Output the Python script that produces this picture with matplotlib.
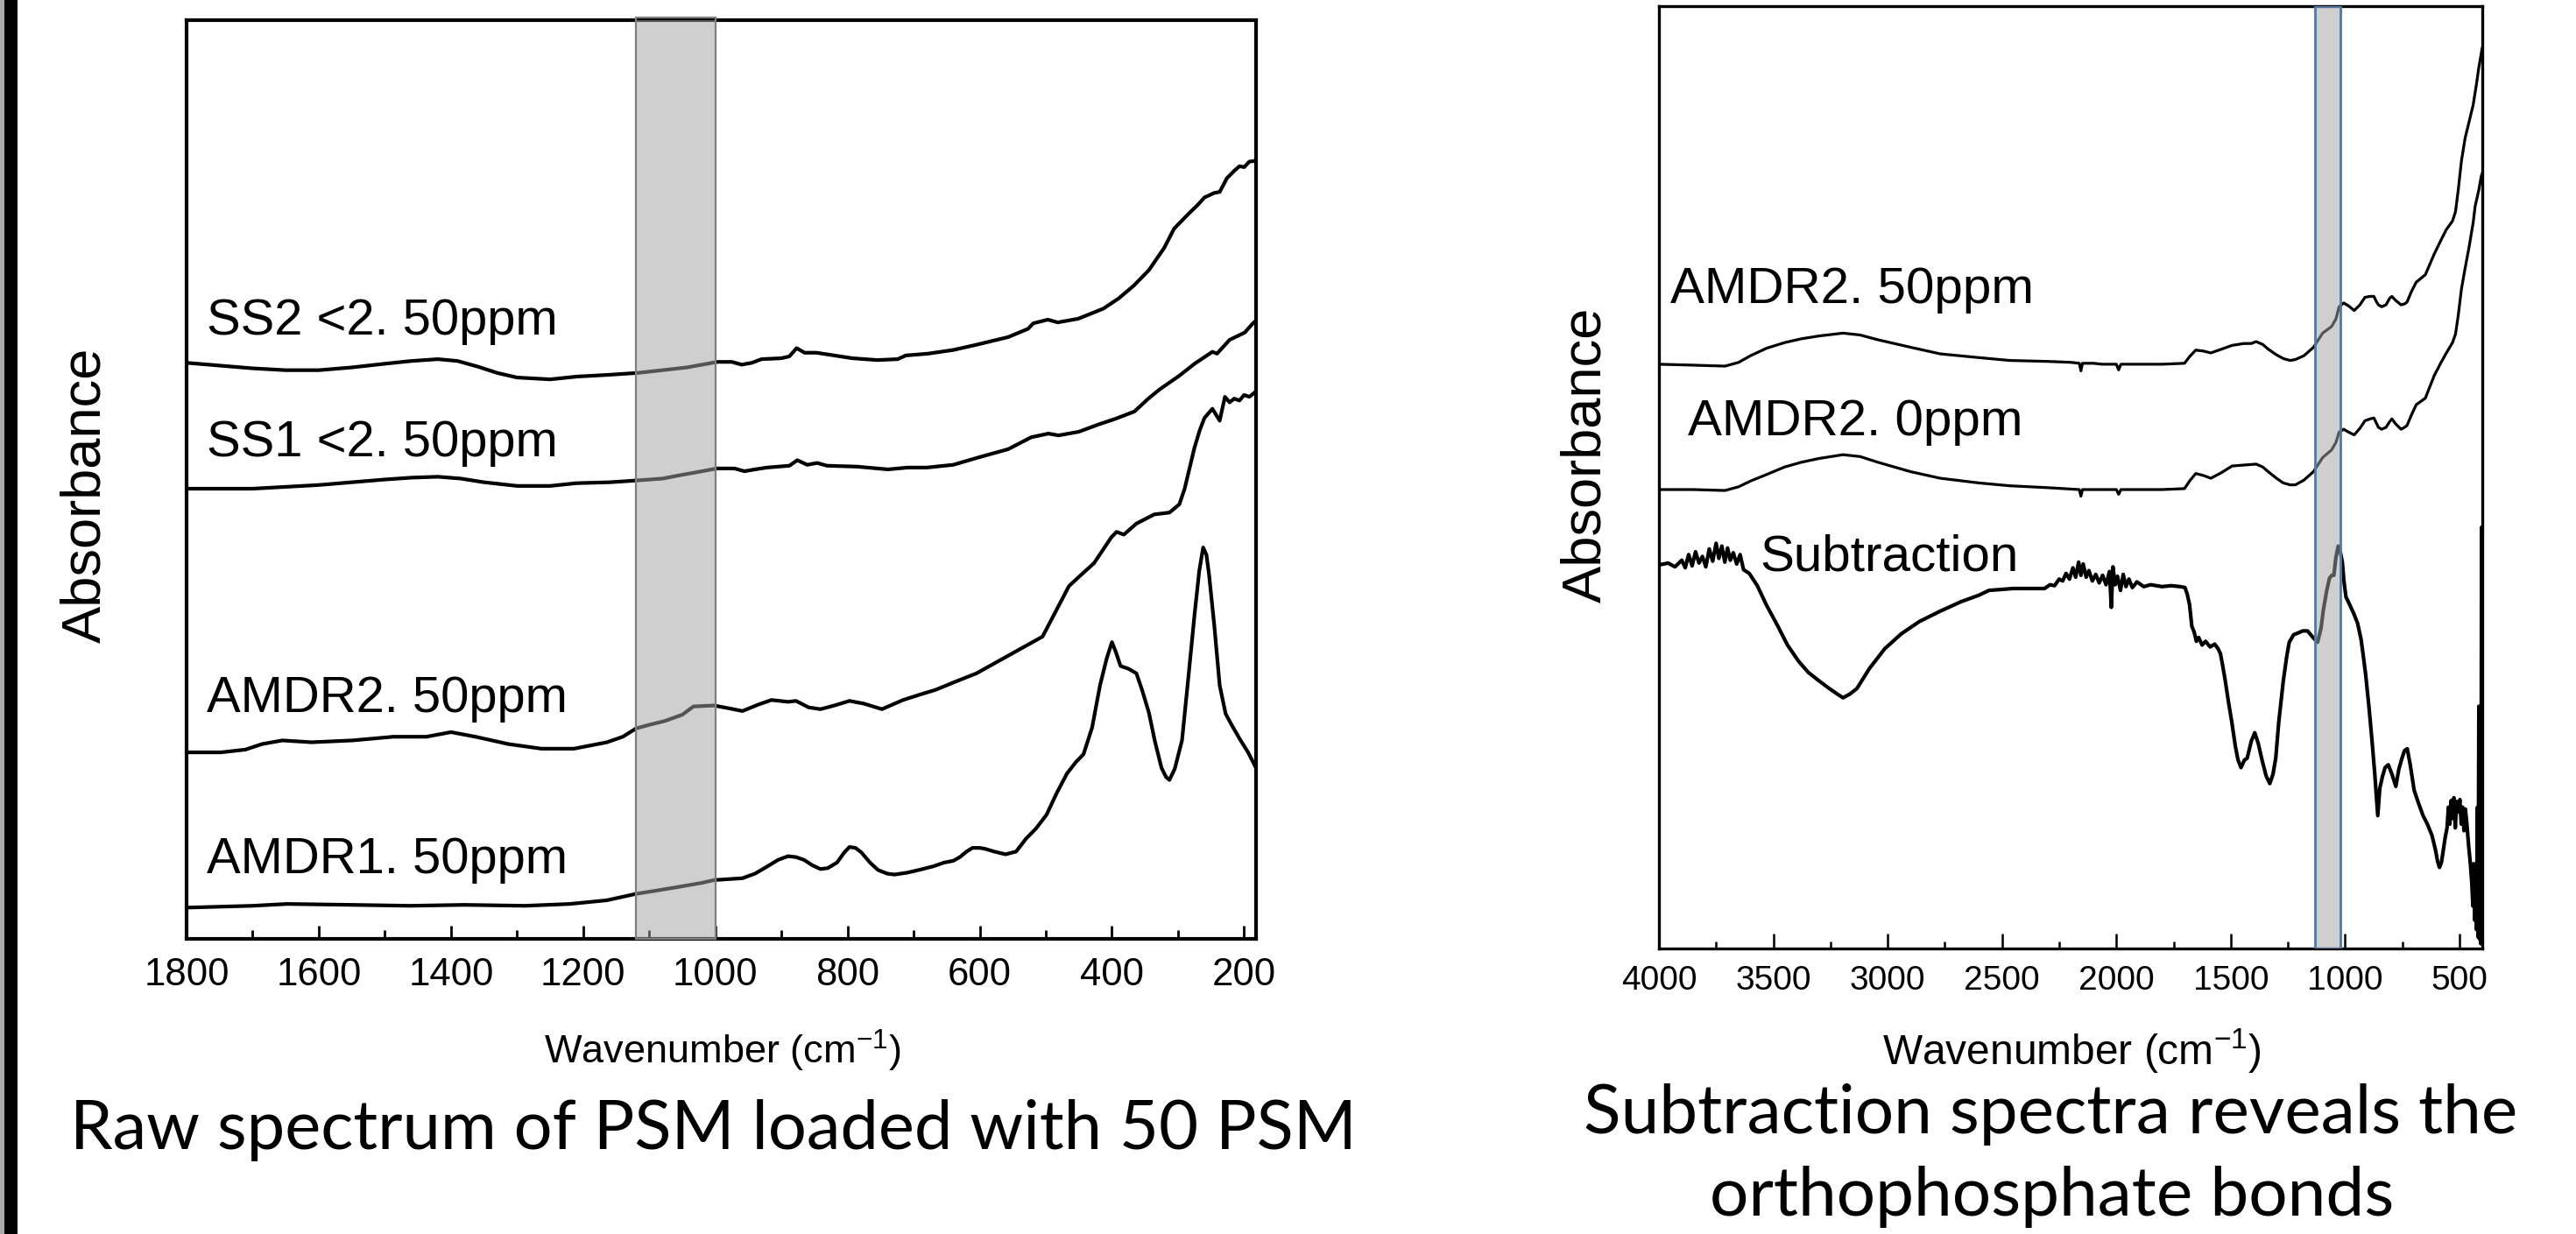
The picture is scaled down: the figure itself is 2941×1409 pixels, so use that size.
import numpy as np
import matplotlib
matplotlib.use("Agg")
import matplotlib.pyplot as plt
from matplotlib.patches import Rectangle
from matplotlib.ticker import MultipleLocator

# ---------------- data: left panel (raw spectra, 1800-182 cm-1) ----------------
ss2_wn = [1800, 1750, 1700, 1650, 1600, 1550, 1500, 1460, 1420, 1390,
          1360, 1330, 1300, 1250, 1210, 1160, 1118, 1080, 1043, 1020,
          997, 975, 960, 945, 930, 900, 888, 877, 865, 847,
          820, 793, 755, 724, 712, 678, 640, 603, 557, 527,
          519, 497, 482, 451, 413, 390, 367, 344, 321, 306,
          283, 270, 260, 245, 237, 226, 215, 207, 200, 192, 182]
ss2_ab = [0.627, 0.624, 0.621, 0.619, 0.619, 0.622, 0.626, 0.629, 0.631, 0.629,
          0.623, 0.616, 0.611, 0.609, 0.612, 0.614, 0.616, 0.619, 0.622, 0.625,
          0.628, 0.628, 0.625, 0.627, 0.631, 0.632, 0.634, 0.643, 0.638, 0.638,
          0.635, 0.632, 0.630, 0.631, 0.635, 0.637, 0.641, 0.647, 0.655, 0.664,
          0.670, 0.674, 0.671, 0.675, 0.686, 0.697, 0.711, 0.728, 0.752, 0.773,
          0.790, 0.799, 0.807, 0.812, 0.813, 0.828, 0.836, 0.841, 0.840, 0.846, 0.847]

ss1_wn = [1800, 1700, 1600, 1550, 1500, 1460, 1420, 1385, 1350, 1300,
          1250, 1210, 1160, 1118, 1080, 1051, 1020, 998, 971, 956,
          940, 922, 888, 876, 861, 846, 831, 785, 739, 709,
          680, 640, 602, 557, 522, 496, 481, 450, 420, 395,
          366, 345, 328, 298, 275, 248, 241, 222, 199, 188, 182]
ss1_ab = [0.490, 0.490, 0.494, 0.497, 0.500, 0.502, 0.503, 0.501, 0.497, 0.493,
          0.493, 0.496, 0.497, 0.499, 0.501, 0.505, 0.509, 0.512, 0.512, 0.509,
          0.511, 0.513, 0.515, 0.521, 0.516, 0.518, 0.515, 0.514, 0.511, 0.513,
          0.513, 0.516, 0.524, 0.533, 0.546, 0.550, 0.548, 0.552, 0.560, 0.566,
          0.574, 0.588, 0.598, 0.613, 0.626, 0.639, 0.637, 0.652, 0.660, 0.669, 0.673]

amdr2_wn = [1800, 1748, 1711, 1686, 1655, 1611, 1549, 1487, 1437, 1400,
            1363, 1313, 1263, 1214, 1164, 1140, 1120, 1100, 1077, 1050,
            1033, 1002, 980, 959, 935, 915, 890, 878, 859, 841,
            820, 797, 775, 748, 716, 690, 667, 640, 605, 570,
            530, 505, 481, 465, 450, 427, 401, 393, 382, 363,
            336, 313, 298, 290, 283, 275, 267, 260, 248, 237,
            229, 222, 215, 207, 200, 192, 182]
amdr2_ab = [0.203, 0.203, 0.206, 0.212, 0.216, 0.214, 0.216, 0.220, 0.220, 0.225,
            0.220, 0.212, 0.207, 0.207, 0.214, 0.220, 0.229, 0.233, 0.237, 0.244,
            0.253, 0.254, 0.251, 0.248, 0.255, 0.260, 0.258, 0.259, 0.252, 0.250,
            0.254, 0.259, 0.256, 0.250, 0.260, 0.266, 0.271, 0.279, 0.289, 0.303,
            0.319, 0.329, 0.362, 0.384, 0.394, 0.409, 0.437, 0.443, 0.440, 0.452,
            0.462, 0.464, 0.473, 0.490, 0.511, 0.535, 0.554, 0.567, 0.577, 0.564,
            0.590, 0.584, 0.588, 0.586, 0.592, 0.590, 0.596]

amdr1_wn = [1800, 1700, 1648, 1550, 1462, 1380, 1288, 1220, 1164, 1120,
            1085, 1052, 1020, 1002, 980, 959, 940, 921, 905, 890,
            878, 866, 853, 841, 830, 816, 805, 797, 788, 779,
            766, 754, 740, 729, 710, 692, 670, 654, 640, 630,
            620, 611, 600, 592, 578, 561, 545, 530, 515, 499,
            484, 468, 455, 443, 430, 418, 408, 400, 394, 387,
            375, 363, 354, 344, 335, 325, 318, 313, 305, 294,
            285, 275, 268, 262, 257, 253, 245, 237, 228, 219,
            207, 194, 182]
amdr1_ab = [0.034, 0.036, 0.038, 0.037, 0.036, 0.037, 0.036, 0.038, 0.042, 0.049,
            0.053, 0.057, 0.061, 0.064, 0.065, 0.066, 0.071, 0.079, 0.086, 0.090,
            0.089, 0.086, 0.080, 0.076, 0.077, 0.083, 0.094, 0.100, 0.099, 0.094,
            0.083, 0.075, 0.071, 0.070, 0.072, 0.075, 0.079, 0.083, 0.085, 0.089,
            0.095, 0.099, 0.099, 0.098, 0.095, 0.092, 0.095, 0.109, 0.120, 0.135,
            0.158, 0.180, 0.192, 0.201, 0.230, 0.276, 0.305, 0.323, 0.312, 0.297,
            0.294, 0.289, 0.270, 0.246, 0.215, 0.186, 0.176, 0.173, 0.185, 0.216,
            0.280, 0.353, 0.400, 0.426, 0.418, 0.396, 0.340, 0.276, 0.245, 0.233,
            0.218, 0.203, 0.186]

left_labels = ["SS2 <2. 50ppm", "SS1 <2. 50ppm", "AMDR2. 50ppm", "AMDR1. 50ppm"]
left_ticks = [1800, 1600, 1400, 1200, 1000, 800, 600, 400, 200]
left_band = (1000, 1120)

# ---------------- data: right panel (4000-400 cm-1) ----------------
a50_wn = [4000, 3850, 3711, 3651, 3600, 3529, 3450, 3377, 3300, 3195,
          3120, 3043, 2900, 2770, 2600, 2466, 2300, 2200, 2162, 2155,
          2148, 2100, 2063, 2000, 1990, 1980, 1900, 1800, 1702, 1680,
          1653, 1620, 1587, 1540, 1494, 1442, 1410, 1389, 1360, 1336,
          1300, 1270, 1240, 1217, 1180, 1138, 1098, 1059, 1040, 1026,
          1006, 985, 960, 935, 913, 890, 874, 862, 854, 840,
          821, 805, 795, 780, 755, 740, 729, 710, 689, 649,
          610, 580, 557, 530, 517, 505, 491, 475, 458, 440,
          425, 415, 405, 401]
a50_ab = [0.620, 0.619, 0.618, 0.622, 0.629, 0.637, 0.643, 0.647, 0.650, 0.653,
          0.651, 0.646, 0.638, 0.631, 0.627, 0.624, 0.623, 0.622, 0.621, 0.613,
          0.621, 0.621, 0.620, 0.620, 0.614, 0.620, 0.620, 0.620, 0.621, 0.628,
          0.635, 0.634, 0.632, 0.636, 0.640, 0.642, 0.642, 0.644, 0.641, 0.636,
          0.630, 0.626, 0.624, 0.625, 0.629, 0.638, 0.653, 0.660, 0.668, 0.681,
          0.685, 0.682, 0.677, 0.683, 0.691, 0.692, 0.692, 0.686, 0.683, 0.681,
          0.683, 0.690, 0.692, 0.688, 0.683, 0.684, 0.686, 0.697, 0.707, 0.715,
          0.737, 0.752, 0.763, 0.772, 0.782, 0.805, 0.836, 0.860, 0.877, 0.895,
          0.918, 0.935, 0.949, 0.955]

a0_wn = [4000, 3850, 3711, 3651, 3600, 3529, 3450, 3377, 3300, 3195,
         3120, 3043, 2900, 2770, 2600, 2466, 2300, 2162, 2155, 2148,
         2063, 2000, 1990, 1980, 1900, 1800, 1702, 1680, 1653, 1620,
         1587, 1540, 1494, 1442, 1389, 1360, 1336, 1300, 1270, 1240,
         1217, 1180, 1138, 1098, 1059, 1040, 1026, 1006, 985, 960,
         935, 913, 890, 874, 862, 854, 840, 821, 805, 795,
         780, 755, 740, 729, 710, 689, 649, 610, 580, 557,
         530, 517, 505, 491, 475, 458, 440, 431, 415, 405, 401]
a0_ab = [0.487, 0.487, 0.486, 0.490, 0.496, 0.503, 0.511, 0.516, 0.520, 0.524,
         0.522, 0.516, 0.506, 0.499, 0.494, 0.491, 0.489, 0.487, 0.480, 0.487,
         0.487, 0.487, 0.482, 0.487, 0.487, 0.487, 0.488, 0.496, 0.504, 0.502,
         0.499, 0.505, 0.512, 0.513, 0.514, 0.511, 0.506, 0.499, 0.494, 0.492,
         0.492, 0.497, 0.506, 0.521, 0.529, 0.537, 0.548, 0.551, 0.548, 0.545,
         0.552, 0.560, 0.562, 0.563, 0.557, 0.553, 0.551, 0.553, 0.559, 0.562,
         0.557, 0.551, 0.553, 0.555, 0.566, 0.577, 0.584, 0.608, 0.622, 0.632,
         0.643, 0.652, 0.672, 0.700, 0.722, 0.744, 0.770, 0.788, 0.805, 0.819, 0.822]

sub_wn = [4000, 3960, 3930, 3900, 3885, 3870, 3855, 3840, 3825, 3810,
          3795, 3780, 3765, 3750, 3738, 3725, 3712, 3700, 3688, 3675,
          3660, 3645, 3630, 3605, 3570, 3529, 3480, 3438, 3390, 3347,
          3300, 3256, 3220, 3195, 3165, 3134, 3080, 3013, 2940, 2861,
          2770, 2679, 2600, 2557, 2450, 2380, 2314, 2290, 2270, 2250,
          2235, 2220, 2205, 2190, 2178, 2165, 2155, 2145, 2132, 2120,
          2105, 2090, 2075, 2060, 2045, 2030, 2022, 2015, 2005, 1995,
          1982, 1970, 1958, 1945, 1930, 1910, 1880, 1850, 1800, 1760,
          1720, 1700, 1690, 1680, 1670, 1660, 1650, 1640, 1625, 1610,
          1590, 1570, 1555, 1545, 1535, 1525, 1510, 1495, 1480, 1468,
          1455, 1440, 1428, 1410, 1395, 1380, 1362, 1345, 1329, 1315,
          1303, 1290, 1270, 1255, 1244, 1225, 1204, 1185, 1164, 1140,
          1120, 1105, 1095, 1080, 1068, 1058, 1049, 1040, 1030, 1020,
          1012, 1005, 996, 980, 963, 945, 930, 920, 910, 895,
          883, 870, 857, 848, 837, 825, 811, 795, 778, 765,
          751, 740, 728, 715, 698, 680, 659, 640, 620, 605,
          595, 587, 578, 570, 562, 554, 548, 542, 536, 530,
          524, 518, 512, 505, 498, 492, 486, 480, 474, 468,
          460, 452, 446, 441, 437, 433, 429, 425, 421, 418,
          415, 412, 409, 406, 403, 401]
sub_ab = [0.407, 0.409, 0.405, 0.412, 0.404, 0.418, 0.406, 0.421, 0.409, 0.416,
          0.405, 0.424, 0.411, 0.430, 0.414, 0.427, 0.410, 0.425, 0.412, 0.420,
          0.408, 0.418, 0.402, 0.398, 0.385, 0.364, 0.342, 0.322, 0.305, 0.293,
          0.284, 0.276, 0.270, 0.266, 0.270, 0.276, 0.297, 0.318, 0.334, 0.347,
          0.358, 0.368, 0.375, 0.380, 0.382, 0.382, 0.382, 0.386, 0.385, 0.392,
          0.390, 0.398, 0.392, 0.404, 0.394, 0.410, 0.396, 0.408, 0.394, 0.401,
          0.390, 0.397, 0.388, 0.396, 0.386, 0.400, 0.362, 0.405, 0.386, 0.395,
          0.380, 0.397, 0.384, 0.392, 0.383, 0.389, 0.384, 0.386, 0.384, 0.385,
          0.384, 0.383, 0.376, 0.365, 0.342, 0.336, 0.326, 0.330, 0.322, 0.326,
          0.320, 0.323, 0.318, 0.313, 0.300, 0.286, 0.262, 0.240, 0.215, 0.200,
          0.192, 0.200, 0.202, 0.220, 0.229, 0.218, 0.199, 0.183, 0.175, 0.185,
          0.202, 0.240, 0.284, 0.310, 0.325, 0.333, 0.335, 0.337, 0.337, 0.330,
          0.325, 0.340, 0.359, 0.380, 0.393, 0.396, 0.396, 0.415, 0.427, 0.420,
          0.410, 0.390, 0.373, 0.365, 0.356, 0.345, 0.328, 0.310, 0.291, 0.255,
          0.223, 0.185, 0.141, 0.170, 0.182, 0.192, 0.195, 0.185, 0.172, 0.190,
          0.202, 0.210, 0.212, 0.195, 0.168, 0.155, 0.141, 0.132, 0.120, 0.105,
          0.092, 0.086, 0.092, 0.105, 0.118, 0.128, 0.150, 0.132, 0.157, 0.138,
          0.160, 0.128, 0.156, 0.145, 0.158, 0.132, 0.150, 0.125, 0.148, 0.134,
          0.110, 0.090, 0.070, 0.045, 0.090, 0.030, 0.080, 0.020, 0.150, 0.012,
          0.257, 0.010, 0.100, 0.005, 0.447, 0.020]

right_labels = ["AMDR2. 50ppm", "AMDR2. 0ppm", "Subtraction"]
right_ticks = [4000, 3500, 3000, 2500, 2000, 1500, 1000, 500]
right_band = (1020, 1130)

left_title = "Raw spectrum of PSM loaded with 50 PSM"
right_title = ["Subtraction spectra reveals the", "orthophosphate bonds"]

# ---------------- figure ----------------
W, H, DPI = 2941, 1409, 100
plt.rcParams['font.family'] = ['Liberation Sans', 'DejaVu Sans']
plt.rcParams['mathtext.fontset'] = 'custom'
plt.rcParams['mathtext.rm'] = 'Liberation Sans'
plt.rcParams['mathtext.it'] = 'Liberation Sans'
plt.rcParams['mathtext.bf'] = 'Liberation Sans'

fig = plt.figure(figsize=(W / DPI, H / DPI), dpi=DPI)
fig.patch.set_facecolor('white')


def fx(px):
    return px / W


def fy(py):
    return 1 - py / H


# black edge strip at left of slide
fig.add_artist(Rectangle((0, 0), fx(5), 1, transform=fig.transFigure,
                         facecolor='#aca8a8', edgecolor='none'))
fig.add_artist(Rectangle((fx(5), 0), fx(15), 1, transform=fig.transFigure,
                         facecolor='black', edgecolor='none'))


def make_axes(x0, x1, y0, y1, spine_w):
    ax = fig.add_axes([fx(x0), fy(y1), fx(x1) - fx(x0), fy(y0) - fy(y1)])
    for s in ax.spines.values():
        s.set_linewidth(spine_w)
        s.set_color('black')
    ax.set_yticks([])
    ax.set_ylim(0, 1)
    return ax


# ---- left panel ----
axL = make_axes(213, 1434, 23, 1072, 3.0)
axL.set_xlim(1800, 182)
axL.set_xticks(left_ticks)
axL.xaxis.set_minor_locator(MultipleLocator(100))
axL.tick_params(axis='x', which='major', direction='in', length=10.5, width=2.0,
                labelsize=31.5, pad=15)
axL.tick_params(axis='x', which='minor', direction='in', length=7, width=2.0)
for wn, ab in [(ss2_wn, ss2_ab), (ss1_wn, ss1_ab), (amdr2_wn, amdr2_ab), (amdr1_wn, amdr1_ab)]:
    axL.plot(wn, ab, color='black', lw=3.0, zorder=2, solid_joinstyle='round')
axL.axvspan(left_band[0], left_band[1], facecolor='#a3a3a3', alpha=0.52,
            edgecolor='none', zorder=3)
axL.axvspan(left_band[0], left_band[1], facecolor='none', edgecolor='#7f7f7f',
            lw=1.6, zorder=4, ymin=0, ymax=1.003, clip_on=False)

for s, base in zip(left_labels, [382, 521, 813, 997]):
    fig.text(fx(236), fy(base), s, fontsize=41.8, va='baseline', ha='left')
fig.text(fx(98), fy(565), "Absorbance", fontsize=45.5, rotation=90,
         ha='center', va='center')
fig.text(fx(825), fy(1200), r"Wavenumber (cm$^{-1}$)", fontsize=32.5,
         ha='center', va='center')

# ---- right panel ----
axR = make_axes(1894, 2834, 7, 1083, 2.4)
axR.set_xlim(4000, 400)
axR.set_xticks(right_ticks)
axR.xaxis.set_minor_locator(MultipleLocator(250))
axR.tick_params(axis='x', which='major', direction='in', length=12, width=1.8,
                labelsize=28, pad=13.5)
axR.tick_params(axis='x', which='minor', direction='in', length=6, width=1.8)
axR.plot(a50_wn, a50_ab, color='black', lw=2.3, zorder=2, solid_joinstyle='round')
axR.plot(a0_wn, a0_ab, color='black', lw=2.3, zorder=2, solid_joinstyle='round')
axR.plot(sub_wn, sub_ab, color='black', lw=3.0, zorder=2, solid_joinstyle='round')
axR.axvspan(right_band[0], right_band[1], facecolor='#a3a3a3', alpha=0.52,
            edgecolor='none', zorder=3)
axR.axvspan(right_band[0], right_band[1], facecolor='none', edgecolor='#4f7aa8',
            lw=2.0, zorder=4)

for s, x0, base in zip(right_labels, [1907, 1927, 2009], [346, 497, 651]):
    fig.text(fx(x0), fy(base), s, fontsize=42, va='baseline', ha='left')
fig.text(fx(1811), fy(519), "Absorbance", fontsize=45.5, rotation=90,
         ha='center', va='center')
fig.text(fx(2365), fy(1200), r"Wavenumber (cm$^{-1}$)", fontsize=34.5,
         ha='center', va='center')

# ---- slide titles (fit to measured widths) ----
renderer = fig.canvas.get_renderer()


def fit_text(s, cx, base, width_px):
    t = fig.text(fx(cx), fy(base), s, fontsize=60, family=['Lato', 'DejaVu Sans'],
                 ha='center', va='baseline')
    w = t.get_window_extent(renderer=renderer).width
    t.set_fontsize(60 * width_px / w)
    return t


fit_text(left_title, 814, 1312, 1470)
fit_text(right_title[0], 2341, 1294, 1068)
fit_text(right_title[1], 2343, 1388, 783)

fig.savefig("out.png", dpi=DPI, facecolor='white')
